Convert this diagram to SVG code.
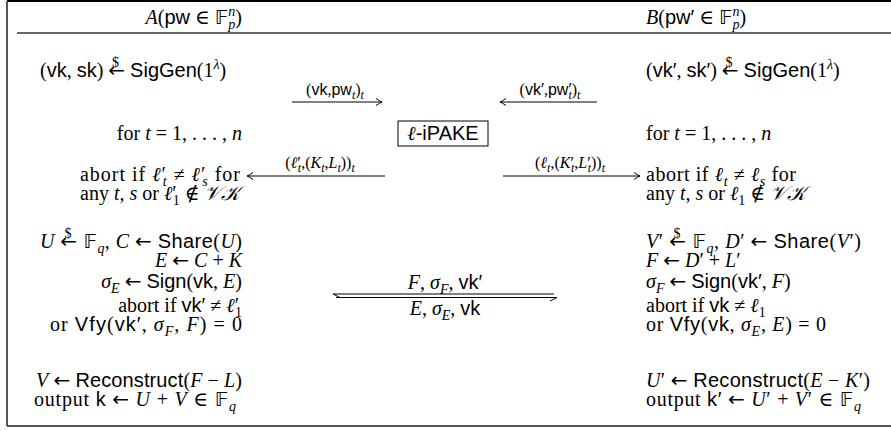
<svg xmlns="http://www.w3.org/2000/svg" width="891" height="431" viewBox="0 0 891 431">
<style>
text{font-family:"Liberation Serif","DejaVu Serif",serif;font-size:20px;fill:#000}
.i{font-style:italic}
.sf{font-family:"Liberation Sans","DejaVu Sans",sans-serif;font-style:normal}
.bb{font-family:"DejaVu Sans","DejaVu Serif",sans-serif;font-style:normal}
.ar{font-family:"DejaVu Sans",sans-serif;font-style:normal}
.sm{font-size:14px}
.lb{font-size:16px}
.xs{font-size:12px}
.ln{stroke:#000;stroke-width:1;fill:none}
.frame{stroke:#555;stroke-width:2;fill:none}
</style>
<defs>
<marker id="ah" markerWidth="10" markerHeight="10" refX="9" refY="5" orient="auto" markerUnits="userSpaceOnUse">
<path d="M3,1.5 Q7,4.3 9,5 Q7,5.7 3,8.5" fill="none" stroke="#000" stroke-width="1"/>
</marker>
</defs>
<g id="frame">
<line x1="7" y1="1" x2="891" y2="1" stroke="#000" stroke-width="2"/>
<line x1="7" y1="1" x2="7" y2="426" class="frame"/>
<line x1="7" y1="426" x2="891" y2="426" class="frame"/>
<line x1="17" y1="33" x2="891" y2="33" stroke="#333" stroke-width="1.5"/>
</g>
<g id="header-A">
<text x="242" y="24" text-anchor="end"><tspan class="i">A</tspan>(<tspan class="sf">pw</tspan> ∈ <tspan class="bb">𝔽</tspan><tspan class="i sm" dy="-8">n</tspan><tspan class="i sm" dx="-7" dy="13">p</tspan><tspan dy="-5">)</tspan></text>
</g>
<g id="header-B">
<text x="646" y="24"><tspan class="i">B</tspan>(<tspan class="sf">pw′</tspan> ∈ <tspan class="bb">𝔽</tspan><tspan class="i sm" dy="-8">n</tspan><tspan class="i sm" dx="-7" dy="13">p</tspan><tspan dy="-5">)</tspan></text>
</g>
<g id="A-keygen">
<text x="40" y="77">(<tspan class="sf">vk</tspan>, <tspan class="sf">sk</tspan>) <tspan class="ar">←</tspan><tspan class="sm" dx="-13" dy="-10">$</tspan><tspan dx="6" dy="10"> </tspan><tspan class="sf">SigGen</tspan>(1<tspan class="i sm" dy="-8">λ</tspan><tspan dy="8">)</tspan></text>
</g>
<g id="B-keygen">
<text x="646" y="77">(<tspan class="sf">vk′</tspan>, <tspan class="sf">sk′</tspan>) <tspan class="ar">←</tspan><tspan class="sm" dx="-13" dy="-10">$</tspan><tspan dx="6" dy="10"> </tspan><tspan class="sf">SigGen</tspan>(1<tspan class="i sm" dy="-8">λ</tspan><tspan dy="8">)</tspan></text>
</g>
<g id="ipake">
<rect x="398" y="121" width="90" height="25" fill="#fff" stroke="#000" stroke-width="1"/>
<text x="443" y="140" text-anchor="middle"><tspan class="i">ℓ</tspan><tspan class="sf">-iPAKE</tspan></text>
</g>
<g id="A-loop">
<text x="242" y="140" text-anchor="end">for <tspan class="i">t</tspan> = 1, . . . , <tspan class="i">n</tspan></text>
<text x="80" y="181" textLength="160" lengthAdjust="spacing">abort if <tspan class="i">ℓ</tspan>′<tspan class="i sm" dx="-4" dy="5">t</tspan><tspan dy="-5"> ≠ </tspan><tspan class="i">ℓ</tspan>′<tspan class="i sm" dx="-4" dy="5">s</tspan><tspan dy="-5"> for</tspan></text>
<text x="80" y="200">any <tspan class="i">t, s</tspan> or <tspan class="i">ℓ</tspan>′<tspan class="sm" dx="-4" dy="5">1</tspan><tspan dy="-5"> ∉ </tspan><tspan class="i">𝒱𝒦</tspan></text>
</g>
<g id="B-loop">
<text x="646" y="140">for <tspan class="i">t</tspan> = 1, . . . , <tspan class="i">n</tspan></text>
<text x="646" y="181" textLength="150" lengthAdjust="spacing">abort if <tspan class="i">ℓ</tspan><tspan class="i sm" dy="5">t</tspan><tspan dy="-5"> ≠ </tspan><tspan class="i">ℓ</tspan><tspan class="i sm" dy="5">s</tspan><tspan dy="-5"> for</tspan></text>
<text x="646" y="200">any <tspan class="i">t, s</tspan> or <tspan class="i">ℓ</tspan><tspan class="sm" dy="5">1</tspan><tspan dy="-5"> ∉ </tspan><tspan class="i">𝒱𝒦</tspan></text>
</g>
<g id="A-share">
<text x="40" y="248" textLength="202" lengthAdjust="spacing"><tspan class="i">U</tspan> <tspan class="ar">←</tspan><tspan class="sm" dx="-13" dy="-10">$</tspan><tspan dx="6" dy="10"> </tspan><tspan class="bb">𝔽</tspan><tspan class="i sm" dy="5">q</tspan><tspan dy="-5">, </tspan><tspan class="i">C</tspan> <tspan class="ar">←</tspan> <tspan class="sf">Share</tspan>(<tspan class="i">U</tspan>)</text>
<text x="242" y="267" text-anchor="end"><tspan class="i">E</tspan> <tspan class="ar">←</tspan> <tspan class="i">C</tspan> + <tspan class="i">K</tspan></text>
<text x="242" y="288" text-anchor="end"><tspan class="i">σ</tspan><tspan class="i sm" dy="5">E</tspan><tspan dy="-5"> </tspan><tspan class="ar">←</tspan> <tspan class="sf">Sign</tspan>(<tspan class="sf">vk</tspan>, <tspan class="i">E</tspan>)</text>
</g>
<g id="A-verify">
<text x="242" y="312" text-anchor="end">abort if <tspan class="sf">vk′</tspan> ≠ <tspan class="i">ℓ</tspan>′<tspan class="sm" dx="-4" dy="5">1</tspan></text>
<text x="50" y="331" textLength="192" lengthAdjust="spacing">or <tspan class="sf">Vfy</tspan>(<tspan class="sf">vk′</tspan>, <tspan class="i">σ</tspan><tspan class="i sm" dy="5">F</tspan><tspan dy="-5">, </tspan><tspan class="i">F</tspan>) = 0</text>
</g>
<g id="A-output">
<text x="36" y="387" textLength="206" lengthAdjust="spacing"><tspan class="i">V</tspan> <tspan class="ar">←</tspan> <tspan class="sf">Reconstruct</tspan>(<tspan class="i">F</tspan> − <tspan class="i">L</tspan>)</text>
<text x="34" y="406" textLength="202" lengthAdjust="spacing">output <tspan class="sf">k</tspan> <tspan class="ar">←</tspan> <tspan class="i">U</tspan> + <tspan class="i">V</tspan> ∈ <tspan class="bb">𝔽</tspan><tspan class="i sm" dy="5">q</tspan></text>
</g>
<g id="B-share">
<text x="646" y="248" textLength="215" lengthAdjust="spacing"><tspan class="i">V</tspan>′ <tspan class="ar">←</tspan><tspan class="sm" dx="-13" dy="-10">$</tspan><tspan dx="6" dy="10"> </tspan><tspan class="bb">𝔽</tspan><tspan class="i sm" dy="5">q</tspan><tspan dy="-5">, </tspan><tspan class="i">D</tspan>′ <tspan class="ar">←</tspan> <tspan class="sf">Share</tspan>(<tspan class="i">V</tspan>′)</text>
<text x="646" y="267"><tspan class="i">F</tspan> <tspan class="ar">←</tspan> <tspan class="i">D</tspan>′ + <tspan class="i">L</tspan>′</text>
<text x="646" y="288"><tspan class="i">σ</tspan><tspan class="i sm" dy="5">F</tspan><tspan dy="-5"> </tspan><tspan class="ar">←</tspan> <tspan class="sf">Sign</tspan>(<tspan class="sf">vk′</tspan>, <tspan class="i">F</tspan>)</text>
</g>
<g id="B-verify">
<text x="646" y="312">abort if <tspan class="sf">vk</tspan> ≠ <tspan class="i">ℓ</tspan><tspan class="sm" dy="5">1</tspan></text>
<text x="646" y="331" textLength="180" lengthAdjust="spacing">or <tspan class="sf">Vfy</tspan>(<tspan class="sf">vk</tspan>, <tspan class="i">σ</tspan><tspan class="i sm" dy="5">E</tspan><tspan dy="-5">, </tspan><tspan class="i">E</tspan>) = 0</text>
</g>
<g id="B-output">
<text x="646" y="387" textLength="224" lengthAdjust="spacing"><tspan class="i">U</tspan>′ <tspan class="ar">←</tspan> <tspan class="sf">Reconstruct</tspan>(<tspan class="i">E</tspan> − <tspan class="i">K</tspan>′)</text>
<text x="646" y="406" textLength="215" lengthAdjust="spacing">output <tspan class="sf">k′</tspan> <tspan class="ar">←</tspan> <tspan class="i">U</tspan>′ + <tspan class="i">V</tspan>′ ∈ <tspan class="bb">𝔽</tspan><tspan class="i sm" dy="5">q</tspan></text>
</g>
<g id="connectors">
<line x1="292" y1="102" x2="382" y2="102" class="ln" marker-end="url(#ah)"/>
<text x="335" y="95" text-anchor="middle" class="lb">(<tspan class="sf">vk</tspan>,<tspan class="sf">pw</tspan><tspan class="i xs" dy="4">t</tspan><tspan dy="-4">)</tspan><tspan class="i xs" dy="4">t</tspan></text>
<line x1="597" y1="102" x2="500" y2="102" class="ln" marker-end="url(#ah)"/>
<text x="550" y="95" text-anchor="middle" class="lb">(<tspan class="sf">vk′</tspan>,<tspan class="sf">pw′</tspan><tspan class="i xs" dx="-3" dy="4">t</tspan><tspan dy="-4">)</tspan><tspan class="i xs" dy="4">t</tspan></text>
<line x1="385" y1="176" x2="247" y2="176" class="ln" marker-end="url(#ah)"/>
<text x="320" y="168" text-anchor="middle" class="lb">(<tspan class="i">ℓ</tspan>′<tspan class="i xs" dx="-3" dy="4">t</tspan><tspan dy="-4">,(</tspan><tspan class="i">K</tspan><tspan class="i xs" dy="4">t</tspan><tspan dy="-4">,</tspan><tspan class="i">L</tspan><tspan class="i xs" dy="4">t</tspan><tspan dy="-4">))</tspan><tspan class="i xs" dy="4">t</tspan></text>
<line x1="503" y1="176" x2="640" y2="176" class="ln" marker-end="url(#ah)"/>
<text x="570" y="168" text-anchor="middle" class="lb">(<tspan class="i">ℓ</tspan><tspan class="i xs" dy="4">t</tspan><tspan dy="-4">,(</tspan><tspan class="i">K</tspan>′<tspan class="i xs" dx="-3" dy="4">t</tspan><tspan dy="-4">,</tspan><tspan class="i">L</tspan>′<tspan class="i xs" dx="-3" dy="4">t</tspan><tspan dy="-4">))</tspan><tspan class="i xs" dy="4">t</tspan></text>
<line x1="333" y1="294" x2="554" y2="294" class="ln"/>
<path d="M333,294 L340,297.5" class="ln"/>
<line x1="336" y1="297.5" x2="557" y2="297.5" class="ln"/>
<path d="M557,297.5 L550,301" class="ln"/>
<text x="445" y="289" text-anchor="middle"><tspan class="i">F</tspan>, <tspan class="i">σ</tspan><tspan class="i sm" dy="5">F</tspan><tspan dy="-5">, </tspan><tspan class="sf">vk′</tspan></text>
<text x="445" y="315" text-anchor="middle"><tspan class="i">E</tspan>, <tspan class="i">σ</tspan><tspan class="i sm" dy="5">E</tspan><tspan dy="-5">, </tspan><tspan class="sf">vk</tspan></text>
</g>
</svg>
